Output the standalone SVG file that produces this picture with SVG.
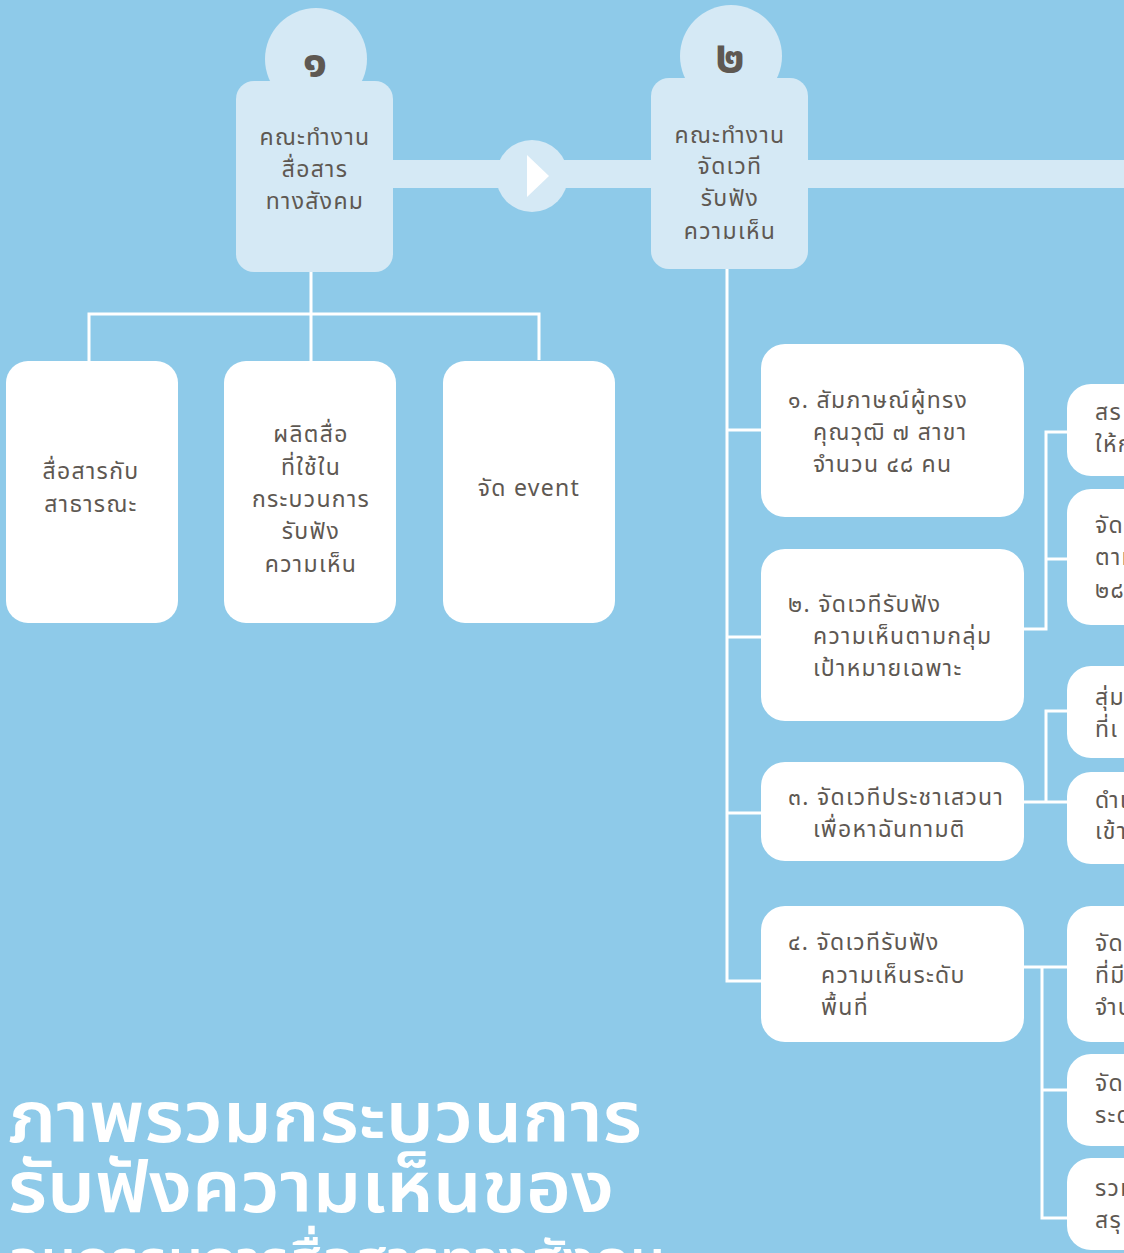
<svg xmlns="http://www.w3.org/2000/svg" width="1124" height="1253" viewBox="0 0 1124 1253">
<style>
.bg{fill:#8ECAE9}
.lt{fill:#D5E9F5}
.wb{fill:#FFFFFF}
.ln{stroke:#FFFFFF;stroke-width:3;fill:none}
text{font-family:"Noto Sans Thai","Noto Sans","DejaVu Sans",sans-serif;fill:#5E5852}
.lbl{font-size:23px;letter-spacing:1.3px}
.ctr{text-anchor:middle}
.num{font-size:46px;font-weight:bold;text-anchor:middle}
.ttl{fill:#FFFFFF;font-weight:600}
</style>
<rect class="bg" x="0" y="0" width="1124" height="1253"/>

<g id="connectors">
  <rect class="lt" x="380" y="160" width="744" height="28"/>
  <circle class="lt" cx="532" cy="176" r="36"/>
  <polygon fill="#FFFFFF" points="527,155 549,176 527,197"/>
  <path class="ln" d="M311,272 V314 M89,361 V314 H539 V360 M311,314 V361"/>
  <path class="ln" d="M727,269 V981 H761 M727,430 H761 M727,637 H761 M727,813 H761"/>
  <path class="ln" d="M1024,629 H1046 V432 H1068 M1046,559 H1068"/>
  <path class="ln" d="M1024,802 H1046 V711 H1068 M1046,802 H1068"/>
  <path class="ln" d="M1024,967 H1068 M1042,967 V1218 H1068 M1042,1090 H1068"/>
</g>

<g id="node1">
  <circle class="lt" cx="316" cy="59" r="51"/>
  <rect class="lt" x="236" y="81" width="157" height="191" rx="18"/>
  <text class="num" x="315" y="76">๑</text>
  <text class="lbl ctr" x="315" y="145">คณะทำงาน</text>
  <text class="lbl ctr" x="315" y="177">สื่อสาร</text>
  <text class="lbl ctr" x="315" y="209">ทางสังคม</text>
</g>
<g id="node2">
  <circle class="lt" cx="731" cy="56" r="51"/>
  <rect class="lt" x="651" y="78" width="157" height="191" rx="18"/>
  <text class="num" x="730" y="72">๒</text>
  <text class="lbl ctr" x="730" y="143">คณะทำงาน</text>
  <text class="lbl ctr" x="730" y="174">จัดเวที</text>
  <text class="lbl ctr" x="730" y="206">รับฟัง</text>
  <text class="lbl ctr" x="730" y="239">ความเห็น</text>
</g>

<g id="c1">
  <rect class="wb" x="6" y="361" width="172" height="262" rx="22"/>
  <text class="lbl ctr" x="91" y="479">สื่อสารกับ</text>
  <text class="lbl ctr" x="91" y="512">สาธารณะ</text>
</g>
<g id="c2">
  <rect class="wb" x="224" y="361" width="172" height="262" rx="22"/>
  <text class="lbl ctr" x="311" y="442">ผลิตสื่อ</text>
  <text class="lbl ctr" x="311" y="475">ที่ใช้ใน</text>
  <text class="lbl ctr" x="311" y="507">กระบวนการ</text>
  <text class="lbl ctr" x="311" y="539">รับฟัง</text>
  <text class="lbl ctr" x="311" y="572">ความเห็น</text>
</g>
<g id="c3">
  <rect class="wb" x="443" y="361" width="172" height="262" rx="22"/>
  <text class="lbl ctr" x="529" y="496">จัด event</text>
</g>

<g id="s1">
  <rect class="wb" x="761" y="344" width="263" height="173" rx="24"/>
  <text class="lbl" x="788" y="408">๑. สัมภาษณ์ผู้ทรง</text>
  <text class="lbl" x="813" y="440">คุณวุฒิ ๗ สาขา</text>
  <text class="lbl" x="813" y="472">จำนวน ๔๘ คน</text>
</g>
<g id="s2">
  <rect class="wb" x="761" y="549" width="263" height="172" rx="24"/>
  <text class="lbl" x="788" y="612">๒. จัดเวทีรับฟัง</text>
  <text class="lbl" x="813" y="644">ความเห็นตามกลุ่ม</text>
  <text class="lbl" x="813" y="676">เป้าหมายเฉพาะ</text>
</g>
<g id="s3">
  <rect class="wb" x="761" y="762" width="263" height="99" rx="24"/>
  <text class="lbl" x="788" y="805">๓. จัดเวทีประชาเสวนา</text>
  <text class="lbl" x="813" y="837">เพื่อหาฉันทามติ</text>
</g>
<g id="s4">
  <rect class="wb" x="761" y="906" width="263" height="136" rx="24"/>
  <text class="lbl" x="788" y="950">๔. จัดเวทีรับฟัง</text>
  <text class="lbl" x="821" y="983">ความเห็นระดับ</text>
  <text class="lbl" x="821" y="1015">พื้นที่</text>
</g>

<g id="r1">
  <rect class="wb" x="1067" y="384" width="100" height="92" rx="24"/>
  <text class="lbl" x="1095" y="420">สร</text>
  <text class="lbl" x="1095" y="452">ให้ก</text>
</g>
<g id="r2">
  <rect class="wb" x="1067" y="489" width="100" height="136" rx="24"/>
  <text class="lbl" x="1095" y="533">จัด</text>
  <text class="lbl" x="1095" y="565">ตาม</text>
  <text class="lbl" x="1095" y="598">๒๘</text>
</g>
<g id="r3">
  <rect class="wb" x="1067" y="666" width="100" height="92" rx="24"/>
  <text class="lbl" x="1095" y="705">สุ่ม</text>
  <text class="lbl" x="1095" y="737">ที่เ</text>
</g>
<g id="r4">
  <rect class="wb" x="1067" y="772" width="100" height="92" rx="24"/>
  <text class="lbl" x="1095" y="808">ดำเ</text>
  <text class="lbl" x="1095" y="839">เข้า</text>
</g>
<g id="r5">
  <rect class="wb" x="1067" y="906" width="100" height="136" rx="24"/>
  <text class="lbl" x="1095" y="951">จัด</text>
  <text class="lbl" x="1095" y="983">ที่มี</text>
  <text class="lbl" x="1095" y="1015">จำน</text>
</g>
<g id="r6">
  <rect class="wb" x="1067" y="1054" width="100" height="92" rx="24"/>
  <text class="lbl" x="1095" y="1091">จัด</text>
  <text class="lbl" x="1095" y="1123">ระด</text>
</g>
<g id="r7">
  <rect class="wb" x="1067" y="1158" width="100" height="92" rx="24"/>
  <text class="lbl" x="1095" y="1196">รวม</text>
  <text class="lbl" x="1095" y="1228">สรุ</text>
</g>

<g id="title">
  <text class="ttl" x="8" y="1142" font-size="72" textLength="634" lengthAdjust="spacingAndGlyphs">ภาพรวมกระบวนการ</text>
  <text class="ttl" x="8" y="1212" font-size="72" textLength="606" lengthAdjust="spacingAndGlyphs">รับฟังความเห็นของ</text>
  <text class="ttl" x="8" y="1275" font-size="48" textLength="657" lengthAdjust="spacingAndGlyphs">อนุกรรมการสื่อสารทางสังคม</text>
</g>
</svg>
